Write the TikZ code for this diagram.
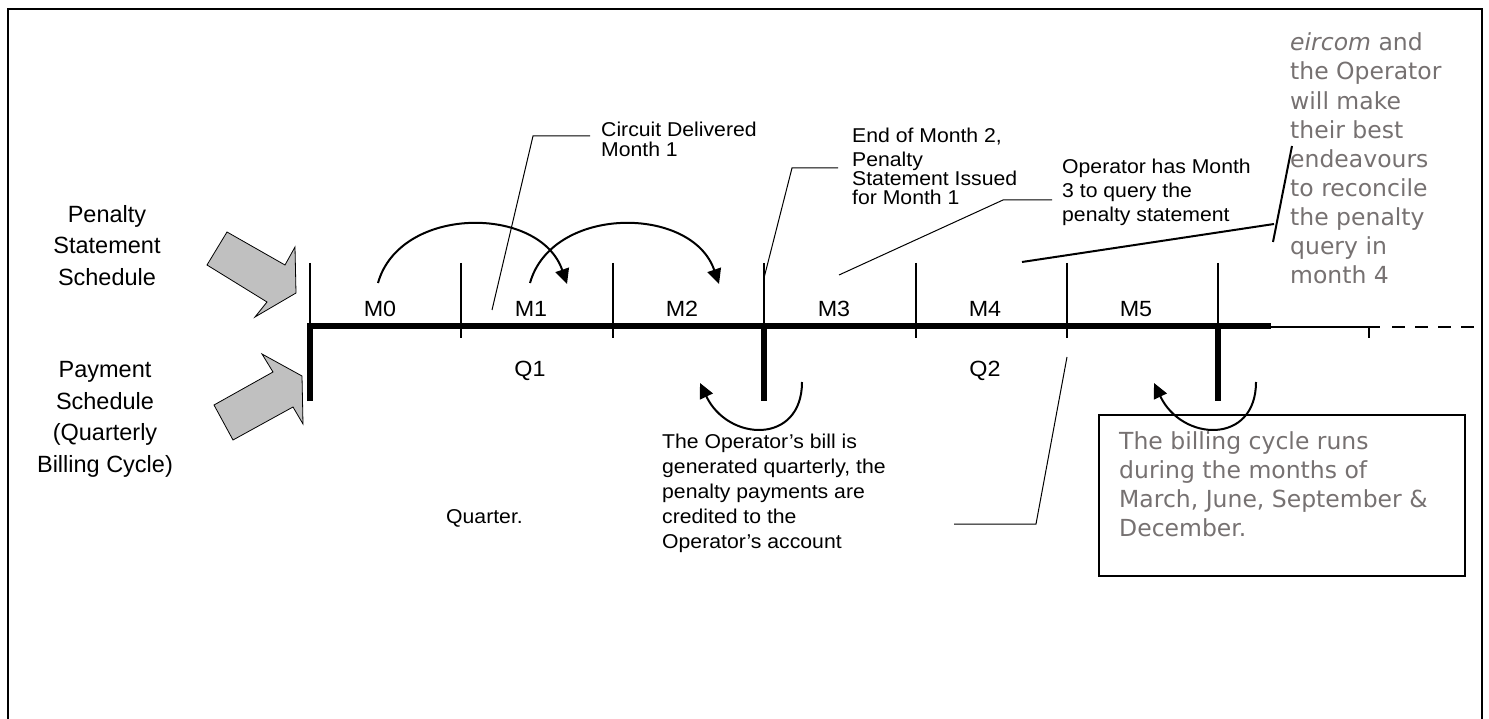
\documentclass[tikz,border=0pt]{standalone}
\usepackage{fontspec}
\setmainfont{Liberation Sans}
\newfontfamily\vfont{DejaVu Sans}
\newfontfamily\cfont[FakeStretch=1.06]{Liberation Sans}
\usetikzlibrary{arrows.meta}
\definecolor{greytext}{HTML}{767171}
\definecolor{arrowfill}{HTML}{C0C0C0}
\begin{document}
\begin{tikzpicture}[x=1pt,y=-1pt,
  lbl/.style={font=\fontsize{23.5}{31.5}\selectfont, align=center, inner sep=0pt, anchor=north},
  mlab/.style={font=\cfont\fontsize{22}{26}\selectfont, inner sep=0pt, anchor=base},
  call/.style={font=\cfont\fontsize{20}{20}\selectfont, align=left, inner sep=0pt, anchor=north west},
  gtxt/.style={font=\vfont\fontsize{23.5}{29.1}\selectfont, text=greytext, align=left, inner sep=0pt, anchor=north west},
  tick/.style={line width=1.5pt},
  lead/.style={line width=1pt},
  heavy/.style={line width=5.5pt},
  curv/.style={line width=2pt, -{Triangle[length=15pt,width=14pt]}},
  block/.style={draw=black, line width=0.8pt, fill=arrowfill, line join=miter},
]
\useasboundingbox (0,0) rectangle (1489,719);
% outer frame
\draw[line width=2pt] (8,719) -- (8,9) -- (1482,9) -- (1482,719);

% block arrows
\draw[block] (227,232) -- (285,265) -- (295,247) -- (296,293) -- (255,317) -- (267,302) -- (207,265) -- cycle;
\draw[block] (214,405) -- (273,372) -- (262,354) -- (302,376) -- (303,424) -- (293,407) -- (233,440) -- cycle;

% left labels
\node[lbl] (pss) at (107,205.2) {Penalty\\Statement\\Schedule};
\node[lbl] (pay) at (105,361.2) {Payment\\Schedule\\(Quarterly\\Billing Cycle)};

% timeline
\coordinate (tA) at (310,326);
\coordinate (tB) at (1271,326);
\coordinate (tC) at (1271,327.5);
\coordinate (tD) at (1380,327.5);
\coordinate (tE) at (1392,327.5);
\coordinate (tF) at (1478,327.5);
\coordinate (vA) at (310,401);
\draw[heavy] (vA) -- (tA) -- (tB);
\draw[line width=2pt] (tC) -- (tD);
\draw[line width=2pt, dash pattern=on 13pt off 10pt] (tE) -- (tF);
\foreach \x in {310,764,1218} \draw[tick] (\x,263) -- (\x,326);
\foreach \x in {461,613,916,1067} \draw[tick] (\x,263) -- (\x,338);
\draw[tick] (1369,328) -- (1369,338);
\draw[heavy] (764,326) -- (764,401);
\draw[heavy] (1218,326) -- (1218,401);

% month / quarter labels
\node[mlab] (m0) at (380,317) {M0};
\node[mlab] (m1) at (531,317) {M1};
\node[mlab] (m2) at (682,317) {M2};
\node[mlab] (m3) at (834,317) {M3};
\node[mlab] (m4) at (985,317) {M4};
\node[mlab] (m5) at (1136,317) {M5};
\node[mlab] (q1) at (530,377) {Q1};
\node[mlab] (q2) at (985,377) {Q2};

% billing box
\node[draw, line width=2pt, minimum width=366pt, minimum height=161pt, inner sep=0pt, anchor=north west] (billbox) at (1098,414) {};
\node[gtxt] (cyc) at (1119,431.4) {The billing cycle runs\\during the months of\\March, June, September \&\\December.};

% curved arrows
\draw[curv] (378,283) .. controls (400,205) and (540,205) .. (567,284);
\draw[curv] (530,283) .. controls (552,205) and (692,205) .. (719,284);
\draw[curv] (802,382) .. controls (802,445) and (728,442) .. (700,383);
\draw[curv] (1256,382) .. controls (1256,445) and (1182,442) .. (1154,383);

% callout texts
\node[call] (circ) at (601,121.4) {Circuit Delivered\\Month 1};
\node[call, font=\cfont\fontsize{20}{19}\selectfont] (eom) at (852,127.7) {End of Month 2,\\[5pt]Penalty\\Statement Issued\\for Month 1};
\node[call, font=\cfont\fontsize{20}{24}\selectfont] (opq) at (1062,158.7) {Operator has Month\\3 to query the\\penalty statement};
\node[call, font=\cfont\fontsize{20}{25}\selectfont] (obill) at (662,433.7) {The Operator’s bill is\\generated quarterly, the\\penalty payments are\\credited to the\\Operator’s account};
\node[call, anchor=base west] (qtr) at (446,523) {Quarter.};
\node[gtxt] (eir) at (1290,32.8) {\textit{eircom} and\\the Operator\\will make\\their best\\endeavours\\to reconcile\\the penalty\\query in\\month 4};

% callout leader lines
\coordinate (c1a) at (590,136); \coordinate (c1b) at (533,136); \coordinate (c1c) at (492,310);
\draw[lead] (c1a) -- (c1b) -- (c1c);
\coordinate (c2a) at (838,168); \coordinate (c2b) at (792,168); \coordinate (c2c) at (764,278);
\draw[lead] (c2a) -- (c2b) -- (c2c);
\coordinate (c3a) at (1052,200); \coordinate (c3b) at (1003,200); \coordinate (c3c) at (839,275);
\draw[lead] (c3a) -- (c3b) -- (c3c);
\coordinate (c4a) at (1022,262); \coordinate (c4b) at (1274,224);
\coordinate (c4c) at (1273,242); \coordinate (c4d) at (1292,146);
\draw[line width=2pt] (c4a) -- (c4b);
\draw[line width=2pt] (c4c) -- (c4d);
\coordinate (c5a) at (1067,357); \coordinate (c5b) at (1036,524); \coordinate (c5c) at (954,524);
\draw[lead] (c5a) -- (c5b) -- (c5c);
\end{tikzpicture}
\end{document}
